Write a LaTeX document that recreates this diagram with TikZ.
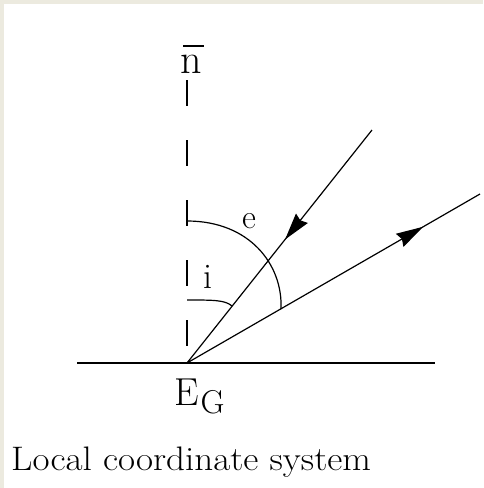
\documentclass[tikz,border=0pt]{standalone}
\usepackage{fontspec}
\setmainfont{Latin Modern Roman}
\usetikzlibrary{arrows.meta,decorations.markings}
\definecolor{frame}{RGB}{236,234,223}
\tikzset{
  ray/.style={line width=1.2pt},
  headtip/.tip={Stealth[length=27pt,width=15pt,inset=2.5pt]},
  lbl/.style={inner sep=0pt, anchor=base},
}
\begin{document}
\begin{tikzpicture}[x=1pt,y=-1pt]
\useasboundingbox (0,0) rectangle (483,488);
\fill[white] (0,0) rectangle (483,488);
\fill[frame] (0,0) rectangle (483,4);
\fill[frame] (0,0) rectangle (4,488);
% points
\coordinate (EG) at (187,363);
\coordinate (ntop) at (187,80);
\coordinate (hl) at (77,363);
\coordinate (hr) at (435,363);
\coordinate (inc) at (372,130);
\coordinate (refl) at (480,194);
% surface and normal
\draw[line width=1.6pt] (hl) -- (hr);
\draw[line width=1.5pt, dash pattern=on 26pt off 34pt] (ntop) -- (EG);
% rays
\draw[ray, postaction={decorate}, decoration={markings, mark=at position 0.47 with {\arrow{headtip}}}] (inc) -- (EG);
\draw[ray, postaction={decorate}, decoration={markings, mark=at position 0.806 with {\arrow{headtip}}}] (EG) -- (refl);
% angle arcs
\draw[ray] (187,221) .. controls (250,221) and (283,265) .. (281,309);
\draw[ray] (187,300) .. controls (214,300) and (225,300) .. (232,306);
% labels
\node[lbl, anchor=base west] (n) at (180,73) {\fontsize{42}{44}\selectfont\rlap{\kern3pt\raisebox{26pt}{\rule{21pt}{1.7pt}}}n};
\node[lbl] (e) at (249,228) {\fontsize{34}{36}\selectfont e};
\node[lbl] (i) at (208,288) {\fontsize{36}{38}\selectfont i};
\node[lbl, anchor=base west] (eglabel) at (174,405) {\fontsize{39}{42}\selectfont E\kern2pt\raisebox{-8pt}{\fontsize{33}{35}\selectfont G}};
\node[lbl, anchor=base west] (caption) at (11,470) {\scalebox{1.09}[1]{\fontsize{34}{38}\selectfont Local coordinate system}};
\end{tikzpicture}
\end{document}
